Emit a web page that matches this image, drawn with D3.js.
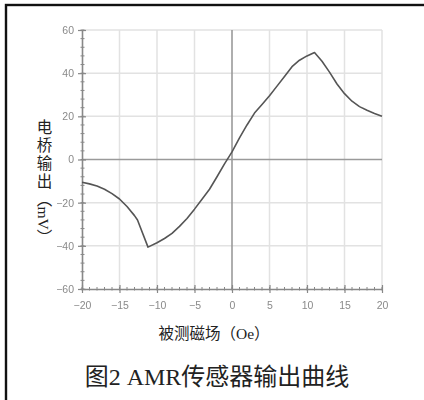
<!DOCTYPE html>
<html>
<head>
<meta charset="utf-8">
<script src="https://cdn.jsdelivr.net/npm/d3@7"></script>
<style>
  html, body { margin: 0; padding: 0; background: #fff; }
  svg { display: block; }
</style>
</head>
<body>
<svg id="chart" width="424" height="400"></svg>
<script>
// Bridge output of the AMR sensor vs. applied field
const fieldOe = [-20, -19, -18, -17, -16, -15, -14, -13, -12.6, -11.2, -10, -9, -8, -7, -6, -5, -4, -3, -2, -1, 0, 1, 2, 3, 4, 5, 6, 7, 8, 9, 10, 11, 12, 13, 14, 15, 16, 17, 18, 19, 20];
const outputMv = [-10.5, -11.3, -12.3, -13.8, -15.8, -18.3, -21.8, -26, -28, -40.6, -38.6, -36.6, -34.2, -31, -27.3, -23, -18.4, -13.8, -8, -2, 3.5, 10, 16, 21.5, 25.5, 29.5, 34, 38.5, 43, 46, 48, 49.6, 45.5, 40.5, 35, 30.5, 27, 24.5, 22.8, 21.3, 20];

const xTicks = [-20, -15, -10, -5, 0, 5, 10, 15, 20];
const yTicks = [-60, -40, -20, 0, 20, 40, 60];
const xMinorTicks = d3.range(-20, 20.01, 1);
const yMinorTicks = d3.range(-60, 60.01, 4);

const yTitleWords = "电桥输出";
const yTitleUnit = "（mV）";
const xTitleParts = ["被测磁场（", "Oe", "）"];
const caption = "图2 AMR传感器输出曲线";

const svg = d3.select("#chart");

const defs = svg.append("defs");
defs.append("filter").attr("id", "soft")
  .append("feGaussianBlur").attr("stdDeviation", 0.45);

// Frame (left and top edges show; the rest runs off the page)
svg.append("rect")
  .attr("x", 6).attr("y", 5)
  .attr("width", 440).attr("height", 420)
  .attr("fill", "none").attr("stroke", "#111").attr("stroke-width", 2.4);

const x = d3.scaleLinear().domain([-20, 20]).range([82, 382]);
const y = d3.scaleLinear().domain([-60, 60]).range([289, 30]);

const plot = svg.append("g").attr("filter", "url(#soft)");

// Grid
plot.append("g").selectAll("line").data(xTicks.filter(d => d !== 0 && d !== -20)).join("line")
  .attr("x1", d => x(d)).attr("x2", d => x(d))
  .attr("y1", y(60)).attr("y2", y(-60))
  .attr("stroke", "#e2e2e2").attr("stroke-width", 1.5);
plot.append("g").selectAll("line").data(yTicks.filter(d => d !== 0 && d !== -60)).join("line")
  .attr("x1", x(-20)).attr("x2", x(20))
  .attr("y1", d => y(d)).attr("y2", d => y(d))
  .attr("stroke", "#e2e2e2").attr("stroke-width", 1.5);

// Zero lines
plot.append("line")
  .attr("x1", x(0)).attr("x2", x(0)).attr("y1", y(60)).attr("y2", y(-60))
  .attr("stroke", "#9a9a9a").attr("stroke-width", 1.6);
plot.append("line")
  .attr("x1", x(-20)).attr("x2", x(20)).attr("y1", y(0)).attr("y2", y(0))
  .attr("stroke", "#9a9a9a").attr("stroke-width", 1.6);

// Minor ticks
plot.append("g").selectAll("line").data(xMinorTicks).join("line")
  .attr("x1", d => x(d)).attr("x2", d => x(d))
  .attr("y1", y(-60) - 2).attr("y2", y(-60) + 1.5)
  .attr("stroke", "#888").attr("stroke-width", 1);
plot.append("g").selectAll("line").data(yMinorTicks).join("line")
  .attr("x1", x(-20) - 1.5).attr("x2", x(-20) + 2.5)
  .attr("y1", d => y(d)).attr("y2", d => y(d))
  .attr("stroke", "#888").attr("stroke-width", 1);

// Axes
const xAxis = d3.axisBottom(x).tickValues(xTicks).tickSize(4).tickSizeOuter(0).tickPadding(9);
const yAxis = d3.axisLeft(y).tickValues(yTicks).tickSize(4).tickSizeOuter(0).tickPadding(4);

const gx = plot.append("g").attr("transform", `translate(0,${y(-60)})`).call(xAxis);
const gy = plot.append("g").attr("transform", `translate(${x(-20)},0)`).call(yAxis);

[gx, gy].forEach(g => {
  g.select(".domain").attr("stroke", "#888").attr("stroke-width", 1.6);
  g.selectAll(".tick line").attr("stroke", "#888").attr("stroke-width", 1.2);
  g.selectAll(".tick text")
    .attr("fill", "#8a8a8a")
    .style("font-family", "'Liberation Sans', Arial, sans-serif")
    .style("font-size", "10.5px");
});
gx.selectAll(".tick line").attr("y1", -4);
gy.selectAll(".tick line").attr("x2", 4).attr("x1", -4);

// Curve
const line = d3.line().x((d, i) => x(fieldOe[i])).y(d => y(d));
plot.append("path")
  .datum(outputMv)
  .attr("d", line)
  .attr("fill", "none")
  .attr("stroke", "#555")
  .attr("stroke-width", 1.6)
  .attr("stroke-linejoin", "round");

// Y title, set vertically
const yt = svg.append("text")
  .attr("x", 43).attr("y", 119)
  .attr("writing-mode", "vertical-rl")
  .style("font-family", "'Liberation Serif', 'Noto Sans CJK SC', serif")
  .style("font-size", "15.5px")
  .attr("fill", "#222");
yt.append("tspan").style("letter-spacing", "2.5px").text(yTitleWords);
yt.append("tspan").text(yTitleUnit);

// X title
const xt = svg.append("text")
  .attr("x", 214).attr("y", 339)
  .attr("text-anchor", "middle")
  .style("font-size", "15.5px")
  .attr("fill", "#222");
xt.selectAll("tspan").data(xTitleParts).join("tspan")
  .style("font-family", (d, i) => i === 1 ? "'Liberation Serif', serif" : "'Noto Sans CJK SC', sans-serif")
  .text(d => d);

// Caption
svg.append("text")
  .attr("x", 217).attr("y", 385)
  .attr("text-anchor", "middle")
  .style("font-family", "'Liberation Serif', 'Noto Sans CJK SC', serif")
  .style("font-size", "24px")
  .attr("fill", "#222")
  .text(caption);
</script>
</body>
</html>
